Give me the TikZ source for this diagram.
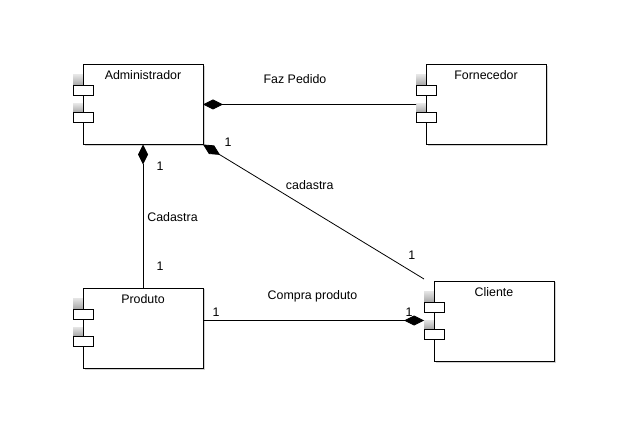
\documentclass[tikz,border=0pt]{standalone}
\usepackage{fontspec}
\setmainfont{Liberation Sans}
\usetikzlibrary{arrows.meta}
\tikzset{
  compbox/.style={draw=black, fill=white, line width=0.8bp, minimum width=120bp, minimum height=80bp, anchor=north west, inner sep=0pt, outer sep=0pt},
  tabbox/.style={draw=black, fill=white, line width=0.8bp},
  greysq/.style={top color=gray!20, bottom color=gray!70, draw=none},
  shadowbox/.style={fill=gray!35, draw=none},
  lbl/.style={anchor=base, inner sep=0pt, font=\fontsize{12.4bp}{14bp}\selectfont},
  conn/.style={draw=black, line width=0.8bp},
  dstart/.style={{Diamond[length=20bp,width=10bp,fill=black]}-},
  dend/.style={-{Diamond[length=20bp,width=10bp,fill=black]}},
}
\newcommand{\umlcomp}[4]{%
  \fill[shadowbox] (#2+1.5,#3+1.5) rectangle ++(120,80);
  \fill[greysq] (#2-10,#3+10) rectangle (#2,#3+21);
  \fill[greysq] (#2-10,#3+39) rectangle (#2,#3+48);
  \node[compbox] (#1) at (#2,#3) {};
  \draw[tabbox] (#2-10,#3+21) rectangle (#2+10,#3+31);
  \draw[tabbox] (#2-10,#3+48) rectangle (#2+10,#3+58);
  \node[lbl] (#1-title) at ([yshift=-15bp]#1.north) {#4};
}
\begin{document}
\begin{tikzpicture}[x=1bp,y=-1bp]
  \fill[white] (0,0) rectangle (626,448);
  \useasboundingbox (0,0) rectangle (626,448);

  \umlcomp{adm}{83}{64.5}{Administrador}
  \umlcomp{forn}{426}{64.5}{Fornecedor}
  \umlcomp{prod}{83}{288}{Produto}
  \umlcomp{cli}{434}{281}{Cliente}

  \coordinate (fornend) at (416,104.5);
  \coordinate (cliend) at (424,279);
  \coordinate (prodout) at (203,320.5);
  \coordinate (cliin) at (424,320.5);

  \draw[conn, dstart] (adm.east) -- (fornend);
  \draw[conn, dstart] (adm.south) -- (prod.north);
  \draw[conn, dstart] (adm.south east) -- (cliend);
  \draw[conn, dend] (prodout) -- (cliin);

  \node[lbl] (t1) at (295,84) {Faz Pedido};
  \node[lbl] (t2) at (228,146.7) {1};
  \node[lbl] (t3) at (160,170.7) {1};
  \node[lbl] (t4) at (172.5,221.7) {Cadastra};
  \node[lbl] (t5) at (160,270.7) {1};
  \node[lbl] (t6) at (309.7,189.3) {cadastra};
  \node[lbl] (t7) at (411.7,260) {1};
  \node[lbl] (t8) at (312.5,300) {Compra produto};
  \node[lbl] (t9) at (216,316.7) {1};
  \node[lbl] (t10) at (409,316.7) {1};
\end{tikzpicture}
\end{document}
